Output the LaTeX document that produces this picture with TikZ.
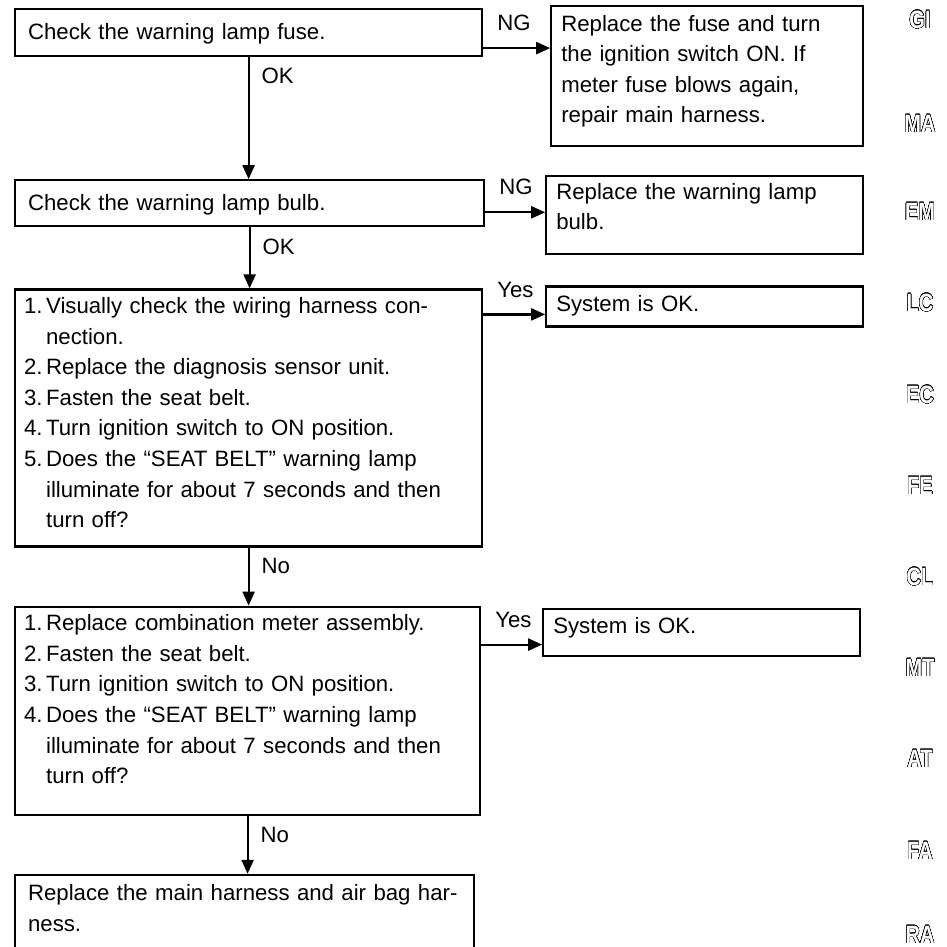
\documentclass[tikz,border=0pt]{standalone}
\usepackage{fontspec}
\setmainfont{Liberation Sans}
\usepackage{tikz}
\usetikzlibrary{arrows.meta,positioning}
\usepackage{graphicx}
\usepackage[copies]{contour}
\contourlength{0.22pt}
\contournumber{32}

\newcommand{\flowfont}{\fontsize{11.1}{15.3}\selectfont}
\newcommand{\nr}[1]{\makebox[11pt][l]{#1}}
\newcommand{\cont}{\hspace*{11pt}}
\newcommand{\tabfont}{\fontsize{12.5}{12.5}\selectfont\bfseries}
\newcommand{\tabtext}[1]{\scalebox{0.8}[1]{\contour{black}{\textcolor{white}{#1}}}}

\begin{document}
\begin{tikzpicture}[
    box/.style={draw, line width=1.1pt, anchor=north west, align=left, inner xsep=6.5pt, inner ysep=0pt, font=\flowfont},
    listbox/.style={box, inner xsep=4.5pt},
    sidebox/.style={box, inner xsep=5pt, text width=148.5pt},
    arrow/.style={-{Triangle[length=7pt, width=6pt]}, line width=1.1pt},
    vlabel/.style={anchor=north west, inner xsep=6pt, inner ysep=5pt, font=\flowfont},
    hlabel/.style={anchor=south west, inner xsep=6.5pt, inner ysep=8pt, font=\flowfont},
    tab/.style={font=\tabfont, inner sep=0pt}
]
    \useasboundingbox (0pt,0pt) rectangle (473.5pt,-473.5pt);

    % main column
    \node[box, text width=220.5pt, text height=15pt, text depth=8.5pt] (fuse) at (7pt,-4pt) {Check the warning lamp fuse.};
    \node[box, text width=221.5pt, text height=15pt, text depth=8pt, below=61pt of fuse.south west, anchor=north west] (bulb) {Check the warning lamp bulb.};
    \node[listbox, text width=224.5pt, text height=12pt, text depth=116.5pt, below=30.5pt of bulb.south west, anchor=north west] (harness) {\nr{1.}Visually check the wiring harness con-\\
        \cont nection.\\
        \nr{2.}Replace the diagnosis sensor unit.\\
        \nr{3.}Fasten the seat belt.\\
        \nr{4.}Turn ignition switch to ON position.\\
        \nr{5.}Does the “SEAT BELT” warning lamp\\
        \cont illuminate for about 7 seconds and then\\
        \cont turn off?};
    \node[listbox, text width=223.5pt, text height=12pt, text depth=92pt, below=29pt of harness.south west, anchor=north west] (meter) {\nr{1.}Replace combination meter assembly.\\
        \nr{2.}Fasten the seat belt.\\
        \nr{3.}Turn ignition switch to ON position.\\
        \nr{4.}Does the “SEAT BELT” warning lamp\\
        \cont illuminate for about 7 seconds and then\\
        \cont turn off?};
    \node[box, text width=216.5pt, text height=13pt, text depth=28pt, below=29pt of meter.south west, anchor=north west] (mainharness) {Replace the main harness and air bag har-\\ness.};

    % side boxes
    \node[sidebox, text width=146pt, text height=12.5pt, text depth=57.5pt, right=33.5pt of fuse.north east, anchor=north west, yshift=1.5pt] (fusefix) {Replace the fuse and turn\\the ignition switch ON. If\\meter fuse blows again,\\repair main harness.};
    \node[sidebox, text height=11.5pt, text depth=27.5pt, right=30pt of bulb.north east, anchor=north west, yshift=2pt] (bulbfix) {Replace the warning lamp\\bulb.};
    \node[sidebox, text height=12.5pt, text depth=7.5pt, right=31pt of harness.north east, anchor=north west, yshift=1.5pt] (sysok1) {System is OK.};
    \node[sidebox, text height=12.5pt, text depth=11pt, right=30.5pt of meter.north east, anchor=north west, yshift=-1pt] (sysok2) {System is OK.};

    % connectors
    \draw[arrow] (fuse.south) -- node[vlabel, pos=0] {OK} (fuse.south |- bulb.north);
    \draw[arrow] (bulb.south) -- node[vlabel, pos=0] {OK} (bulb.south |- harness.north);
    \draw[arrow] (harness.south) -- node[vlabel, pos=0] {No} (harness.south |- meter.north);
    \draw[arrow] (meter.south) -- node[vlabel, pos=0] {No} (meter.south |- mainharness.north);
    \draw[arrow] ([yshift=-7.75pt]fuse.east) -- node[hlabel, pos=0] {NG} ([yshift=-7.75pt]fuse.east -| fusefix.west);
    \draw[arrow] ([yshift=-4.5pt]bulb.east) -- node[hlabel, pos=0] {NG} ([yshift=-4.5pt]bulb.east -| bulbfix.west);
    \draw[arrow] ([yshift=-13pt]harness.north east) -- node[hlabel, pos=0] {Yes} ([yshift=-13pt]harness.north east -| sysok1.west);
    \draw[arrow] ([yshift=-19.5pt]meter.north east) -- node[hlabel, pos=0] {Yes} ([yshift=-19.5pt]meter.north east -| sysok2.west);

    % section tabs
    \foreach \tabname/\ty in {GI/20, MA/124, EM/212, LC/303, EC/395, FE/486, CL/577, MT/668, AT/759, FA/851, RA/935}
        \node[tab] (tab\tabname) at (460pt, -\ty*0.5pt) {\tabtext{\tabname}};
\end{tikzpicture}
\end{document}
